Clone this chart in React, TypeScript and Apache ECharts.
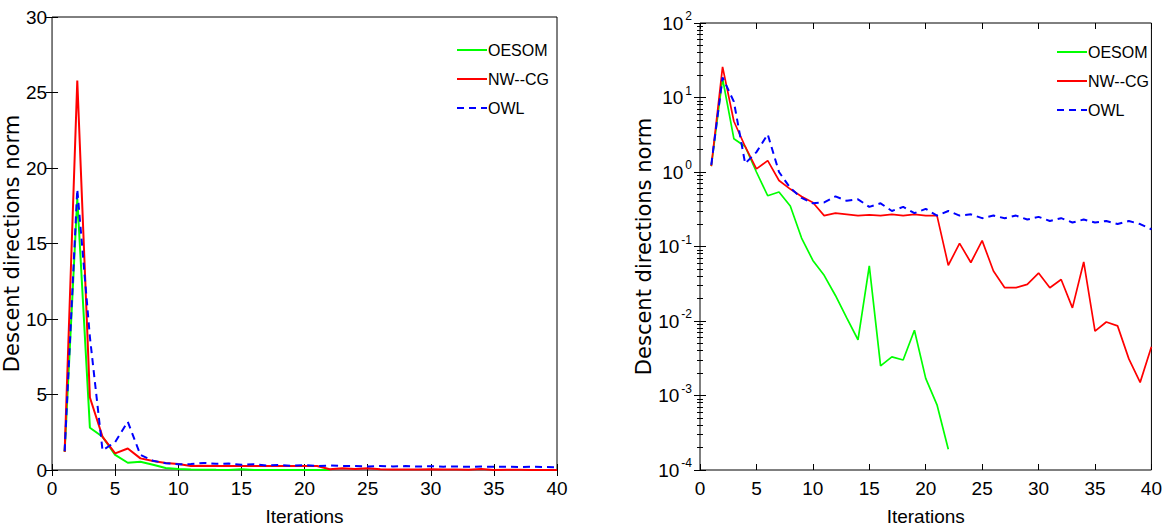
import React, { useEffect, useRef } from "react";
import * as echarts from "echarts";

const iterations = [
  1, 2, 3, 4, 5, 6, 7, 8, 9, 10, 11, 12, 13, 14, 15, 16, 17, 18, 19, 20,
  21, 22, 23, 24, 25, 26, 27, 28, 29, 30, 31, 32, 33, 34, 35, 36, 37, 38, 39, 40,
];

const oesom = [
  1.2, 18, 2.8, 2.2, 1.0, 0.48, 0.54, 0.35, 0.13, 0.065, 0.041, 0.022, 0.011,
  0.0056, 0.055, 0.0025, 0.0033, 0.003, 0.0075, 0.0017, 0.00075, 0.00019,
];

const nwcg = [
  1.2, 25.8, 4.8, 2.2, 1.1, 1.42, 0.77, 0.59, 0.47, 0.39, 0.26, 0.28, 0.27,
  0.26, 0.265, 0.26, 0.27, 0.26, 0.27, 0.26, 0.26, 0.056, 0.11, 0.061, 0.12,
  0.047, 0.028, 0.028, 0.031, 0.044, 0.028, 0.036, 0.015, 0.062, 0.0073,
  0.0097, 0.0086, 0.0031, 0.0015, 0.0045,
];

const owl = [
  1.25, 18.6, 8.8, 1.3, 1.85, 3.2, 1.0, 0.61, 0.45, 0.38, 0.39, 0.47, 0.41,
  0.43, 0.34, 0.38, 0.3, 0.34, 0.28, 0.32, 0.26, 0.3, 0.26, 0.27, 0.24, 0.26,
  0.24, 0.26, 0.23, 0.25, 0.22, 0.24, 0.21, 0.23, 0.21, 0.22, 0.2, 0.22, 0.2,
  0.17,
];

const seriesNames = ["OESOM", "NW--CG", "OWL"];
const xTicks = { min: 0, max: 40, interval: 5 };
const linTicks = { min: 0, max: 30, interval: 5 };
const logTicks = { min: 1e-4, max: 100 };

const FONT = "'Liberation Sans Narrow', 'Liberation Sans', Arial, sans-serif";
const FONT2 = "'Liberation Sans', Arial, sans-serif";
const FONT3 = "'DejaVu Sans', 'Liberation Sans', Arial, sans-serif";

function pairs(vals: number[]) {
  return vals.map((v, i) => [iterations[i], v]);
}

export default function App() {
  const ref = useRef<HTMLDivElement>(null);
  useEffect(() => {
    document.body.style.margin = "0";
    const chart = echarts.init(ref.current!, undefined, { renderer: "svg" });

    const tickLabel = { color: "#000", fontSize: 19, fontFamily: FONT, margin: 9 };
    const xAxisBase = (gridIndex: number, pos: "bottom" | "top") => ({
      type: "value" as const,
      gridIndex,
      position: pos,
      ...xTicks,
      axisLine: { show: false },
      axisTick: { show: true, inside: true, length: 6, lineStyle: { color: "#000" } },
      axisLabel: pos === "bottom" ? tickLabel : { show: false },
      splitLine: { show: false },
      name: pos === "bottom" ? "Iterations" : "",
      nameLocation: "middle" as const,
      nameGap: 37,
      nameTextStyle: { color: "#000", fontSize: 19, fontFamily: FONT },
    });
    const yLin = (pos: "left" | "right") => ({
      type: "value" as const,
      gridIndex: 0,
      position: pos,
      ...linTicks,
      axisLine: { show: false },
      axisTick: { show: true, inside: true, length: 6, lineStyle: { color: "#000" } },
      axisLabel: pos === "left" ? { ...tickLabel, margin: 5 } : { show: false },
      splitLine: { show: false },
      name: pos === "left" ? "Descent directions norm" : "",
      nameLocation: "middle" as const,
      nameGap: 17,
      nameTextStyle: { color: "#000", fontSize: 21, fontFamily: FONT3 },
    });
    const yLog = (pos: "left" | "right") => ({
      type: "log" as const,
      logBase: 10,
      gridIndex: 1,
      position: pos,
      ...logTicks,
      axisLine: { show: false },
      axisTick: { show: true, inside: true, length: 6, lineStyle: { color: "#000" } },
      minorTick: { show: true, splitNumber: 9, length: 3, lineStyle: { color: "#000" } },
      axisLabel:
        pos === "left"
          ? {
              color: "#000",
              fontFamily: FONT,
              margin: 8,
              formatter: (v: number) => "10{sup|" + Math.round(Math.log10(v)) + "}",
              rich: {
                sup: { fontSize: 12, fontFamily: FONT, verticalAlign: "top", lineHeight: 26, padding: [0, 0, 10, 2] },
              },
              fontSize: 19,
            }
          : { show: false },
      splitLine: { show: false },
      name: pos === "left" ? "Descent directions norm" : "",
      nameLocation: "middle" as const,
      nameGap: 25,
      nameTextStyle: { color: "#000", fontSize: 21, fontFamily: FONT3 },
    });

    const mk = (name: string, data: number[], color: string, idx: number, dashed: boolean, width: number) => ({
      type: "line" as const,
      name,
      xAxisIndex: idx * 2,
      yAxisIndex: idx * 2,
      data: pairs(data),
      symbol: "none",
      showSymbol: false,
      lineStyle: { color, width, type: dashed ? ([7, 5] as any) : "solid" },
      itemStyle: { color },
      z: 3,
    });

    const legend = (left: number, top: number) => ({
      data: seriesNames,
      orient: "vertical" as const,
      left,
      top,
      itemWidth: 30,
      itemHeight: 14,
      itemGap: 13,
      selectedMode: false,
      itemStyle: { opacity: 0 },
      textStyle: { color: "#000", fontSize: 16, fontFamily: FONT2, padding: [0, 0, 0, -4] },
    });

    chart.setOption({
      animation: false,
      backgroundColor: "#fff",
      grid: [
        { left: 52, top: 17, width: 505, height: 455, show: true, borderColor: "#000", borderWidth: 1 },
        { left: 700, top: 23, width: 455, height: 449, show: true, borderColor: "#000", borderWidth: 1 },
      ],
      legend: [legend(451, 37), legend(1051, 39)],
      xAxis: [
        xAxisBase(0, "bottom"),
        xAxisBase(0, "top"),
        xAxisBase(1, "bottom"),
        xAxisBase(1, "top"),
      ],
      yAxis: [yLin("left"), yLin("right"), yLog("left"), yLog("right")],
      series: [
        mk("OESOM", oesom, "#00ff00", 0, false, 2),
        mk("NW--CG", nwcg, "#ff0000", 0, false, 2),
        mk("OWL", owl, "#0000ff", 0, true, 2),
        mk("OESOM", oesom, "#00ff00", 1, false, 1.7),
        mk("NW--CG", nwcg, "#ff0000", 1, false, 1.7),
        mk("OWL", owl, "#0000ff", 1, true, 2),
      ],
    });
    return () => chart.dispose();
  }, []);
  return (
    <div
      ref={ref}
      style={{ position: "fixed", left: 0, top: 0, width: 1165, height: 531, background: "#fff" }}
    />
  );
}
